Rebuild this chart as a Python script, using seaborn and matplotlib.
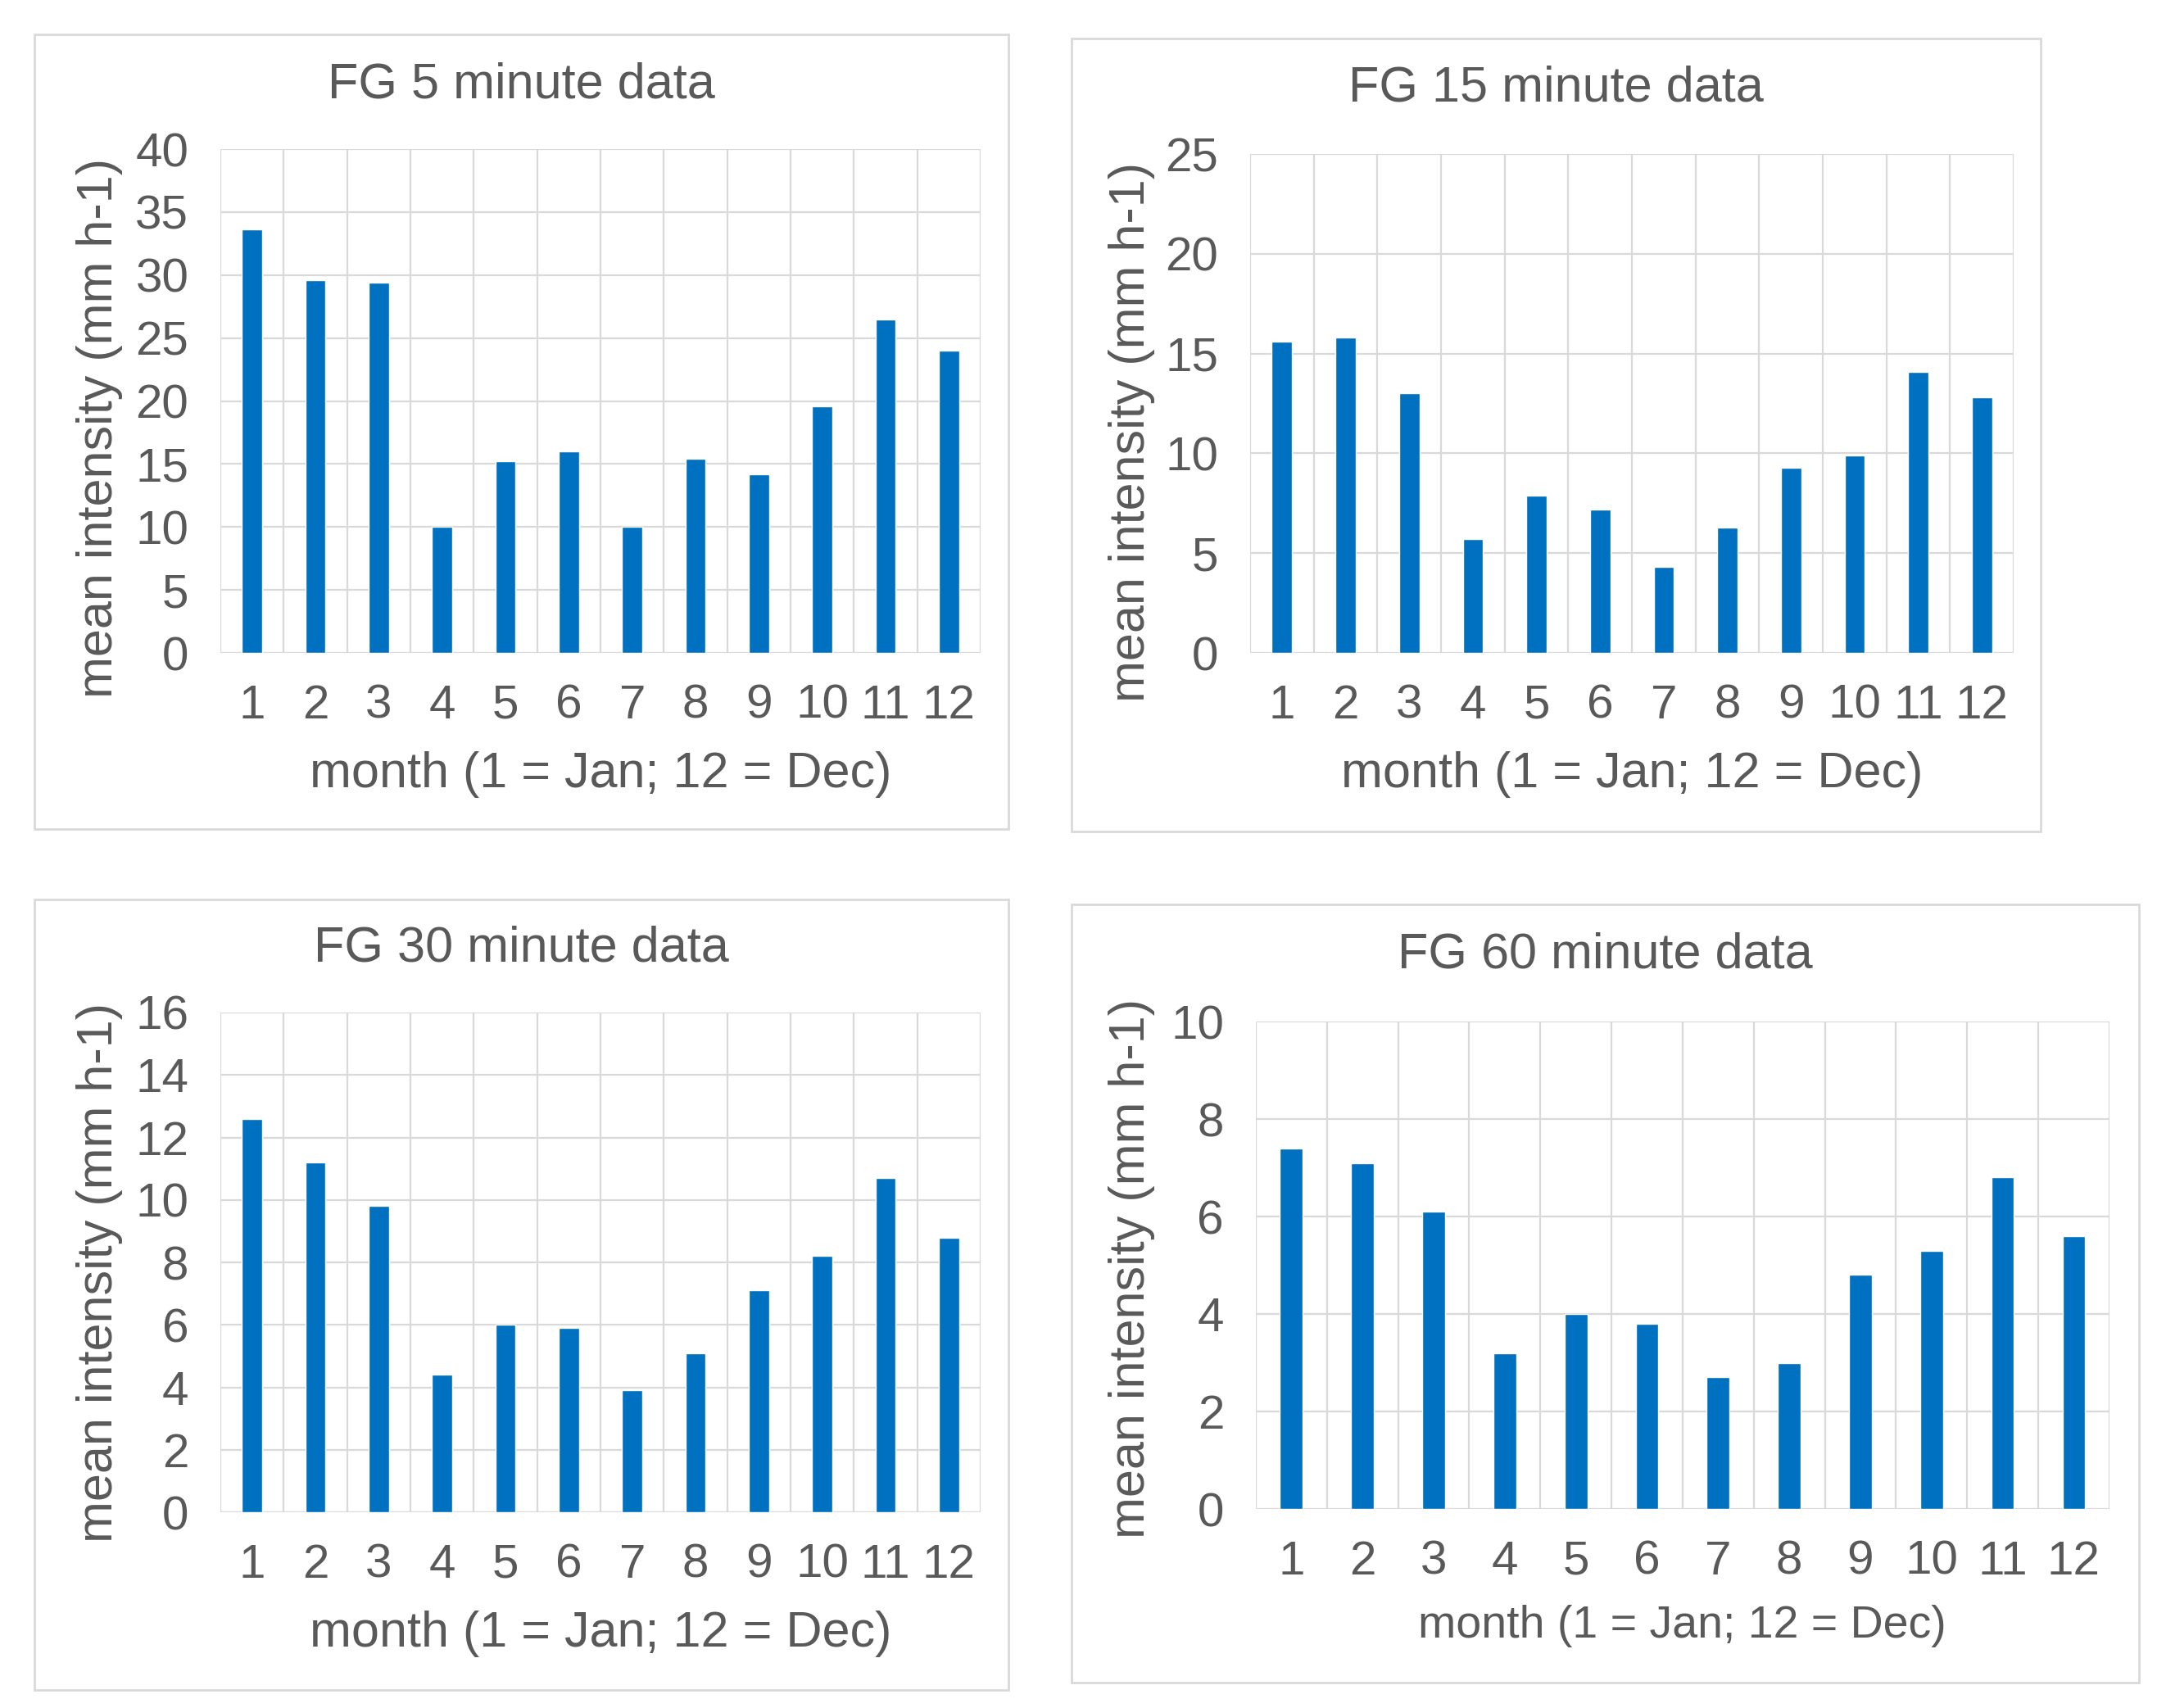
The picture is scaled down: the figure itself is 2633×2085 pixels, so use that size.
import matplotlib
matplotlib.use("Agg")
import matplotlib.pyplot as plt
from matplotlib.patches import Rectangle
from matplotlib.ticker import MultipleLocator
import seaborn as sns
import pandas as pd
import numpy as np

# === Data ===
months = [str(m) for m in range(1, 13)]

fg5 = [33.6, 29.6, 29.4, 10.0, 15.2, 16.0, 10.0, 15.4, 14.2, 19.6, 26.5, 24.0]
fg15 = [15.6, 15.8, 13.0, 5.7, 7.9, 7.2, 4.3, 6.3, 9.3, 9.9, 14.1, 12.8]
fg30 = [12.6, 11.2, 9.8, 4.4, 6.0, 5.9, 3.9, 5.1, 7.1, 8.2, 10.7, 8.8]
fg60 = [7.4, 7.1, 6.1, 3.2, 4.0, 3.8, 2.7, 3.0, 4.8, 5.3, 6.8, 5.6]

titles = ["FG 5 minute data", "FG 15 minute data", "FG 30 minute data", "FG 60 minute data"]
y_max = [40, 25, 16, 10]
y_step = [5, 5, 2, 2]

xlabel = "month (1 = Jan; 12 = Dec)"
ylabel = "mean intensity (mm h-1)"

# === Style ===
sns.set_theme(style="white")
plt.rcParams['font.family'] = ['Liberation Sans', 'DejaVu Sans']

text_col = "#595959"
bar_col = "#0070C0"
grid_col = "#D9D9D9"

fig = plt.figure(figsize=(26.33, 20.85), dpi=100)

# layout (figure fractions): axes rect, frame rect, title y, label coords
panels = [
    dict(ax=[0.1022, 0.6177, 0.3524, 0.2950], box=[0.016, 0.5146, 0.4516, 0.4652], ty=0.950,
         ylc=(-0.159, 0.446), xlc=(0.5, -0.241), xfs=44),
    dict(ax=[0.5796, 0.6177, 0.3540, 0.2921], box=[0.4968, 0.5132, 0.4493, 0.4643], ty=0.948,
         ylc=(-0.155, 0.442), xlc=(0.5, -0.243), xfs=44),
    dict(ax=[0.1022, 0.1146, 0.3524, 0.2926], box=[0.016, 0.0106, 0.4516, 0.4628], ty=0.4445,
         ylc=(-0.159, 0.480), xlc=(0.5, -0.243), xfs=44),
    dict(ax=[0.5822, 0.1165, 0.3957, 0.2854], box=[0.4968, 0.0149, 0.4949, 0.4556], ty=0.441,
         ylc=(-0.145, 0.494), xlc=(0.5, -0.240), xfs=40),
]

series = [fg5, fg15, fg30, fg60]

for i, p in enumerate(panels):
    # chart area frame
    bx = p["box"]
    fig.patches.append(Rectangle((bx[0], bx[1]), bx[2], bx[3], transform=fig.transFigure,
                                 facecolor="none", edgecolor=grid_col, linewidth=2, zorder=-1))

    ax = fig.add_axes(p["ax"])
    ax.patch.set_alpha(0)
    df = pd.DataFrame({"month": months, "value": series[i]})
    sns.barplot(data=df, x="month", y="value", color=bar_col, saturation=1, width=0.32, ax=ax, zorder=3)

    ax.set_xlim(-0.5, 11.5)
    ax.set_ylim(0, y_max[i])
    ax.yaxis.set_major_locator(MultipleLocator(y_step[i]))
    ax.set_xticks(np.arange(12) - 0.5, minor=True)

    ax.grid(True, axis="y", which="major", color=grid_col, linewidth=1.6, zorder=0)
    ax.grid(True, axis="x", which="minor", color=grid_col, linewidth=1.6, zorder=0)
    ax.grid(False, axis="x", which="major")
    ax.set_axisbelow(True)
    for s in ax.spines.values():
        s.set_visible(False)
    ax.axvline(11.5, color=grid_col, linewidth=1.6, zorder=0)

    ax.tick_params(axis="both", which="both", length=0, labelsize=42, labelcolor=text_col)
    ax.tick_params(axis="y", pad=28)
    ax.tick_params(axis="x", pad=27)

    ax.set_xlabel(xlabel, fontsize=p["xfs"], color=text_col, va="center")
    ax.set_ylabel(ylabel, fontsize=44, color=text_col, va="center")
    ax.xaxis.set_label_coords(*p["xlc"])
    ax.yaxis.set_label_coords(*p["ylc"])

    fig.text(bx[0] + bx[2] / 2, p["ty"], titles[i], fontsize=44, color=text_col, ha="center", va="center")

fig.savefig("out.png", dpi=100, facecolor="white")
